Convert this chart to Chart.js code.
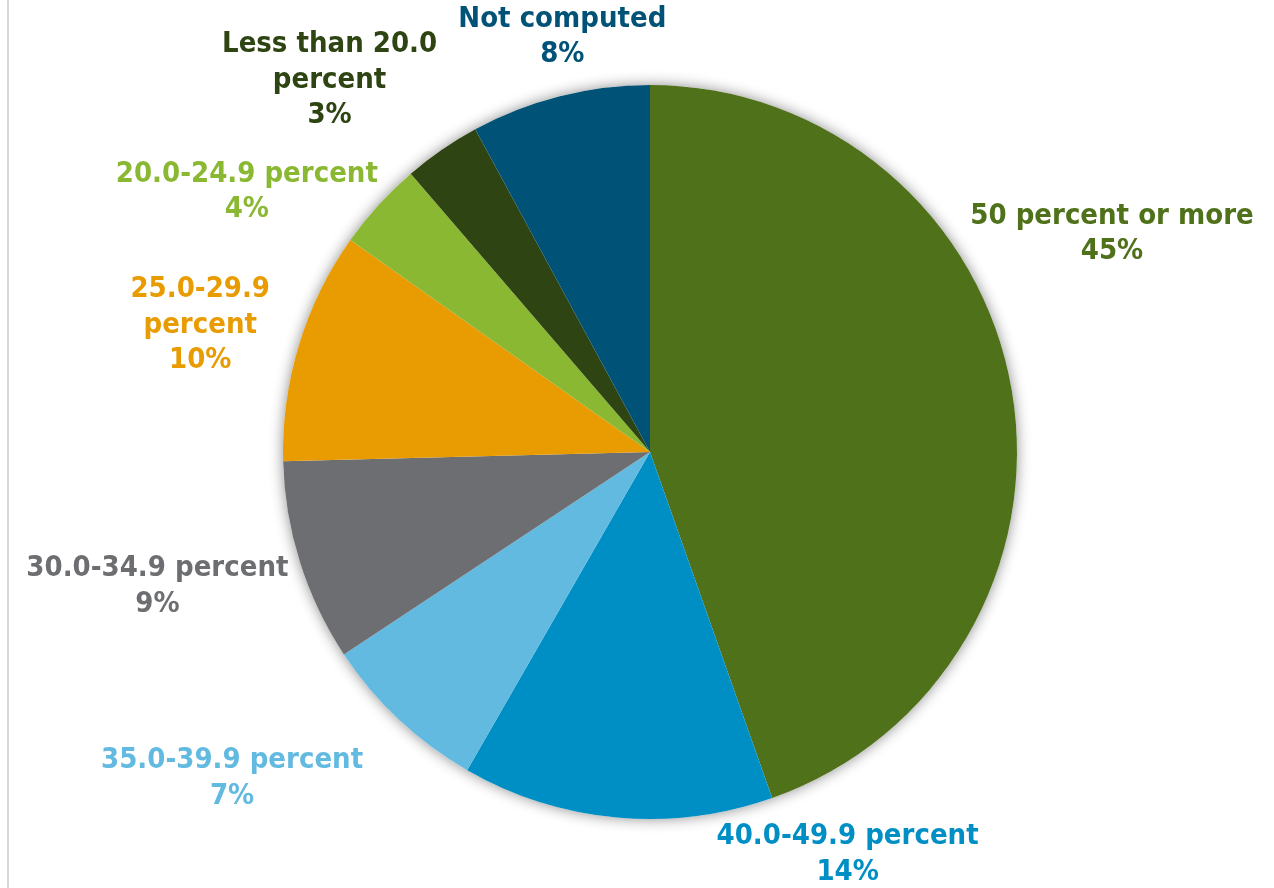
<!DOCTYPE html>
<html>
<head>
<meta charset="utf-8">
<script src="https://cdn.jsdelivr.net/npm/chart.js@4"></script>
<style>
    html, body { margin: 0; padding: 0; background: #ffffff; }
    #wrap { position: relative; width: 1274px; height: 888px; overflow: hidden; }
    #edge { position: absolute; left: 7px; top: 0; width: 2px; height: 888px; background: #d9d9d9; }
    #myChart { position: absolute; left: 0; top: 0; }
</style>
</head>
<body>
<div id="wrap">
    <div id="edge"></div>
    <canvas id="myChart" width="1274" height="888"></canvas>
</div>
<script>
// Slices, clockwise from 12 o'clock (share of total, percent)
const categories = [
    '50 percent or more',
    '40.0-49.9 percent',
    '35.0-39.9 percent',
    '30.0-34.9 percent',
    '25.0-29.9\npercent',
    '20.0-24.9 percent',
    'Less than 20.0\npercent',
    'Not computed'
];
const shares = [44.6, 13.7, 7.4, 8.9, 10.2, 3.9, 3.4, 7.9];
const sliceColors = ['#4e7119', '#008fc5', '#62bae0', '#6d6e71', '#e89c02', '#8ab833', '#2e4412', '#005377'];

// label nudges from a point just outside each slice's mid-angle
const labelNudge = [[46, -147], [236, -18], [-129, 19], [-90, 8], [-46, -4], [-91, 24], [-81, -24], [16, -6]];

document.addEventListener("DOMContentLoaded", function () {

    // faint shadow under the whole pie
    const pieShadow = {
        id: 'pieShadow',
        beforeDatasetsDraw(chart) {
            const arc = chart.getDatasetMeta(0).data[0];
            const ctx = chart.ctx;
            ctx.save();
            ctx.shadowColor = 'rgba(0,0,0,0.45)';
            ctx.shadowBlur = 14;
            ctx.fillStyle = '#ffffff';
            ctx.beginPath();
            ctx.arc(arc.x, arc.y, arc.outerRadius, 0, Math.PI * 2);
            ctx.fill();
            ctx.restore();
        }
    };

    // Excel-style outside labels: name + rounded percent
    const outsideLabels = {
        id: 'outsideLabels',
        afterDatasetsDraw(chart) {
            const ctx = chart.ctx;
            const total = shares.reduce((a, b) => a + b, 0);
            ctx.save();
            ctx.font = 'bold 29px "DejaVu Sans Condensed", "DejaVu Sans", sans-serif';
            ctx.textAlign = 'center';
            ctx.textBaseline = 'middle';
            chart.getDatasetMeta(0).data.forEach((arc, i) => {
                const mid = (arc.startAngle + arc.endAngle) / 2;
                const d = arc.outerRadius * 1.15;
                const x = arc.x + Math.cos(mid) * d + labelNudge[i][0];
                const y = arc.y + Math.sin(mid) * d + labelNudge[i][1];
                const lines = categories[i].split('\n');
                lines.push(Math.round(shares[i] / total * 100) + '%');
                const lh = 35.5;
                const top = y - (lines.length - 1) * lh / 2;
                ctx.fillStyle = sliceColors[i];
                lines.forEach((t, k) => ctx.fillText(t, x, top + k * lh));
            });
            ctx.restore();
        }
    };

    function drawChart() {
        const ctx = document.getElementById('myChart').getContext('2d');
        new Chart(ctx, {
            type: 'pie',
            data: {
                labels: categories,
                datasets: [{
                    data: shares,
                    backgroundColor: sliceColors,
                    borderWidth: 0
                }]
            },
            options: {
                responsive: false,
                animation: false,
                events: [],
                layout: { padding: { top: 85, bottom: 69, left: 26, right: 0 } },
                plugins: {
                    legend: { display: false },
                    tooltip: { enabled: false }
                }
            },
            plugins: [pieShadow, outsideLabels]
        });
    } drawChart();
});
</script>
</body>
</html>
